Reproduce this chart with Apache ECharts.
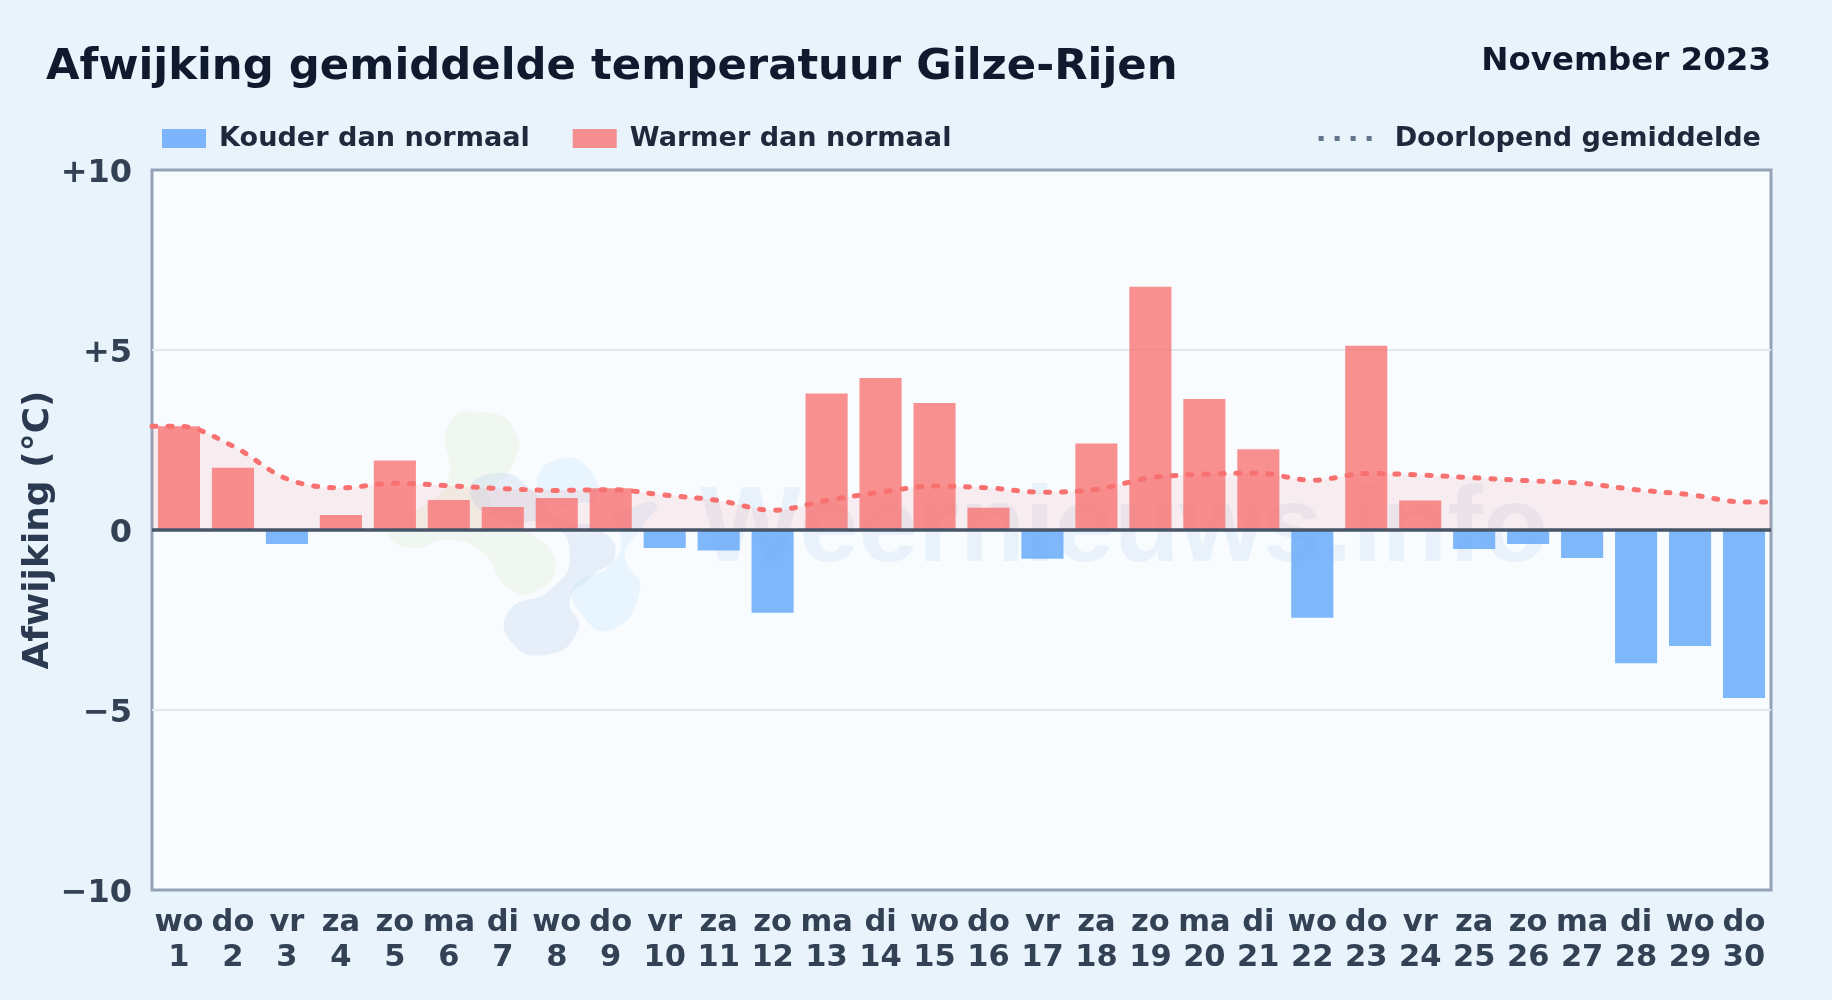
<!DOCTYPE html>
<html><head><meta charset="utf-8">
<style>html,body{margin:0;padding:0;background:#e8f3fc}#c{width:1832px;height:1000px}</style>
<script src="https://cdn.jsdelivr.net/npm/echarts@6/dist/echarts.min.js"></script>
</head><body><div id="c"></div>
<script>
const weekdays = ['wo','do','vr','za','zo','ma','di','wo','do','vr','za','zo','ma','di','wo','do','vr','za','zo','ma','di','wo','do','vr','za','zo','ma','di','wo','do'];
const days = [1,2,3,4,5,6,7,8,9,10,11,12,13,14,15,16,17,18,19,20,21,22,23,24,25,26,27,28,29,30];
const deviation = [2.88,1.73,-0.39,0.42,1.93,0.83,0.64,0.89,1.16,-0.5,-0.57,-2.3,3.79,4.22,3.53,0.62,-0.8,2.4,6.76,3.64,2.24,-2.44,5.12,0.82,-0.53,-0.39,-0.78,-3.7,-3.22,-4.67];
const rollingX = [0.5,1,2,3,4,5,6,7,8,9,10,11,12,13,14,15,16,17,18,19,20,21,22,23,24,25,26,27,28,29,30,30.5];
const rollingAvg = [2.88,2.88,2.33,1.42,1.17,1.3,1.23,1.15,1.1,1.12,0.97,0.82,0.55,0.82,1.05,1.22,1.17,1.05,1.13,1.45,1.55,1.58,1.38,1.57,1.53,1.45,1.37,1.3,1.12,0.98,0.78,0.78];
const yTicks = [-10,-5,0,5,10];
const yTickLabels = ['−10','−5','0','+5','+10'];
const titleText = 'Afwijking gemiddelde temperatuur Gilze-Rijen';
const periodText = 'November 2023';
const coldName = 'Kouder dan normaal', warmName = 'Warmer dan normaal', avgName = 'Doorlopend gemiddelde';
const FONT = '"DejaVu Sans"';
const chart = echarts.init(document.getElementById('c'), null, {renderer:'canvas'});
const blob = (points, fill) => ({type:'polygon', z:1, silent:true, shape:{points, smooth:0.55}, style:{fill}});
chart.setOption({
  animation:false,
  backgroundColor:'#e8f3fc',
  textStyle:{fontFamily:FONT},
  title:[
    {text:titleText,left:46,top:46.5,padding:0,textStyle:{fontFamily:FONT,fontSize:43.35,fontWeight:'bold',color:'#0f1a2e'}},
    {text:periodText,right:61,top:45,padding:0,textStyle:{fontFamily:FONT,fontSize:32.5,fontWeight:'bold',color:'#0f1a2e'}}
  ],
  legend:[
    {left:162,top:125,padding:0,orient:'horizontal',selectedMode:false,itemWidth:44,itemHeight:19,itemGap:43,icon:'rect',
     data:[coldName,warmName],textStyle:{fontFamily:FONT,fontSize:27.1,fontWeight:'bold',color:'#1e293b',padding:[0,0,0,8]}},
    {right:71,top:125,padding:0,selectedMode:false,itemWidth:55,itemHeight:19,
     data:[{name:avgName,lineStyle:{color:'#64748b',width:5,type:[5,11],cap:'butt'},itemStyle:{opacity:0}}],
     textStyle:{fontFamily:FONT,fontSize:27.1,fontWeight:'bold',color:'#1e293b',padding:[0,0,0,16]}}
  ],
  grid:{show:true,left:152,right:61,top:170,bottom:110,backgroundColor:'#f8fcff',borderColor:'#94a3b8',borderWidth:3,containLabel:false},
  graphic:[
    blob([[448,425],[482,412],[516,432],[510,470],[488,495],[520,525],[555,560],[535,592],[505,585],[485,555],[450,540],[410,548],[388,530],[425,505],[448,480]],'rgba(225,240,215,0.38)'),
    blob([[470,490],[500,473],[532,490],[560,518],[600,530],[615,555],[590,578],[570,600],[578,630],[545,655],[510,640],[510,610],[550,590],[570,555],[550,525],[500,520]],'rgba(198,216,238,0.38)'),
    blob([[537,480],[565,458],[593,475],[605,510],[655,503],[640,530],[625,555],[640,590],[610,630],[580,612],[575,585],[610,565],[620,535],[595,505],[555,505]],'rgba(205,232,252,0.38)'),
    {type:'text',z:1,silent:true,style:{x:700,y:478,text:'Weernieuws.info',fill:'rgba(200,220,240,0.3)',font:'bold 107px "Liberation Sans"'}}
  ],
  xAxis:[
    {type:'category',data:days.map((d,i)=>weekdays[i]+'\n'+d),position:'bottom',
     axisLine:{show:false},axisTick:{show:false},splitLine:{show:false},
     axisLabel:{interval:0,margin:16,lineHeight:34.5,fontFamily:FONT,fontSize:30.5,fontWeight:'bold',color:'#334155',hideOverlap:false}},
    {type:'value',min:0.5,max:30.5,show:false}
  ],
  yAxis:{type:'value',min:-10,max:10,interval:5,name:'Afwijking (°C)',nameLocation:'middle',nameRotate:90,nameGap:95,nameMoveOverlap:false,
    nameTextStyle:{fontFamily:FONT,fontSize:36,fontWeight:'bold',color:'#2b3a50'},
    axisLine:{show:false},axisTick:{show:false},
    axisLabel:{margin:20,verticalAlign:'top',lineHeight:7,fontFamily:FONT,fontSize:32,fontWeight:'bold',color:'#334155',formatter:v=>yTickLabels[yTicks.indexOf(v)]},
    splitLine:{showMinLine:false,showMaxLine:false,lineStyle:{color:'#e2e8f0',width:2}}},
  series:[
    {name:coldName,type:'bar',barWidth:'78%',barGap:'-100%',xAxisIndex:0,z:3,
     data:deviation.map(v=>v<0?v:null),itemStyle:{color:'rgba(96,165,250,0.8)'}},
    {name:warmName,type:'bar',barWidth:'78%',barGap:'-100%',xAxisIndex:0,z:3,
     data:deviation.map(v=>v>0?v:null),itemStyle:{color:'rgba(248,113,113,0.78)'}},
    {name:avgName,type:'line',xAxisIndex:1,smooth:0.35,symbol:'none',z:4,
     data:rollingX.map((x,i)=>[x,rollingAvg[i]]),
     lineStyle:{color:'#f87171',width:5,type:[4,12],cap:'round'},
     itemStyle:{color:'#f87171'},
     areaStyle:{color:'rgba(248,113,113,0.16)'},
     markLine:{silent:true,symbol:'none',label:{show:false},animation:false,z:6,
       lineStyle:{color:'#475569',width:3.5,type:'solid'},data:[{yAxis:0}]}}
  ]
});
</script></body></html>
